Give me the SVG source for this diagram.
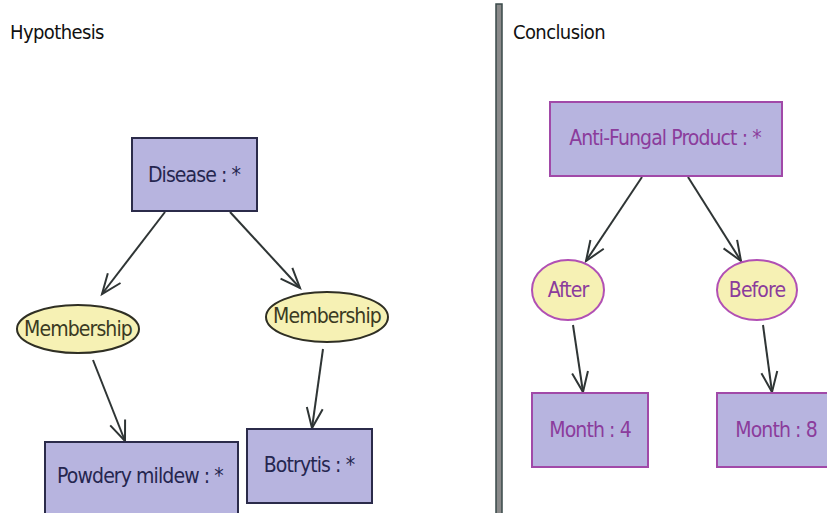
<svg xmlns="http://www.w3.org/2000/svg" width="827" height="513" viewBox="0 0 827 513">
<style>
.title{font-family:"DejaVu Sans Condensed","DejaVu Sans",sans-serif;font-size:20px;letter-spacing:-0.6px;fill:#111}
.t{font-family:"DejaVu Sans Condensed","DejaVu Sans",sans-serif;font-size:21px;letter-spacing:-0.9px;text-anchor:middle;dominant-baseline:central}
.boxL{fill:#b7b4df;stroke:#2b2b4a;stroke-width:2}
.boxR{fill:#b7b4df;stroke:#a149a8;stroke-width:2}
.ellL{fill:#f6f1b4;stroke:#2f2f24;stroke-width:2}
.ellR{fill:#f6f1b4;stroke:#b150b4;stroke-width:2}
.tL{fill:#25264f}
.tE{fill:#3a3a22}
.tR{fill:#8b3c9c}
.edge{stroke:#2f3535;stroke-width:2;fill:none;marker-end:url(#arr)}
</style>
<defs>
<marker id="arr" viewBox="-24 -12 26 24" refX="0" refY="0" markerWidth="26" markerHeight="24" markerUnits="userSpaceOnUse" orient="auto" overflow="visible">
<path d="M-20,-8 L0,0 L-20,8" fill="none" stroke="#2f3535" stroke-width="2"/>
</marker>
</defs>
<rect width="827" height="513" fill="#ffffff"/>
<g id="divider">
<rect x="496" y="4" width="6" height="512" fill="#8a8a8a" stroke="#3a4a4a" stroke-width="1.5"/>
</g>
<text class="title" x="10" y="39">Hypothesis</text>
<text class="title" x="513" y="39">Conclusion</text>
<g id="connectors">
<line class="edge" x1="165" y1="212" x2="102" y2="294"/>
<line class="edge" x1="230" y1="212" x2="300" y2="288"/>
<line class="edge" x1="93" y1="360" x2="125" y2="441"/>
<line class="edge" x1="323" y1="349" x2="312" y2="428"/>
<line class="edge" x1="642" y1="177" x2="586" y2="261"/>
<line class="edge" x1="688" y1="177" x2="741" y2="261"/>
<line class="edge" x1="573" y1="325" x2="583" y2="392"/>
<line class="edge" x1="763" y1="325" x2="772" y2="392"/>
</g>
<g id="disease">
<rect class="boxL" x="132" y="138" width="125" height="73"/>
<text class="t tL" x="194" y="175">Disease : *</text>
</g>
<g id="membership1">
<ellipse class="ellL" cx="78" cy="329" rx="61" ry="24"/>
<text class="t tE" x="78" y="329">Membership</text>
</g>
<g id="membership2">
<ellipse class="ellL" cx="327" cy="317" rx="61" ry="25"/>
<text class="t tE" x="327" y="316">Membership</text>
</g>
<g id="powdery">
<rect class="boxL" x="45" y="442" width="193" height="80"/>
<text class="t tL" x="140" y="476">Powdery mildew : *</text>
</g>
<g id="botrytis">
<rect class="boxL" x="247" y="429" width="125" height="74"/>
<text class="t tL" x="309" y="465">Botrytis : *</text>
</g>
<g id="antifungal">
<rect class="boxR" x="550" y="102" width="232" height="74"/>
<text class="t tR" x="665" y="138">Anti-Fungal Product : *</text>
</g>
<g id="after">
<ellipse class="ellR" cx="568" cy="290" rx="36" ry="30"/>
<text class="t tR" x="568" y="290">After</text>
</g>
<g id="before">
<ellipse class="ellR" cx="757" cy="290" rx="40" ry="30"/>
<text class="t tR" x="757" y="290">Before</text>
</g>
<g id="month4">
<rect class="boxR" x="532" y="393" width="116" height="74"/>
<text class="t tR" x="590" y="430">Month : 4</text>
</g>
<g id="month8">
<rect class="boxR" x="717" y="393" width="120" height="74"/>
<text class="t tR" x="776" y="430">Month : 8</text>
</g>
</svg>
